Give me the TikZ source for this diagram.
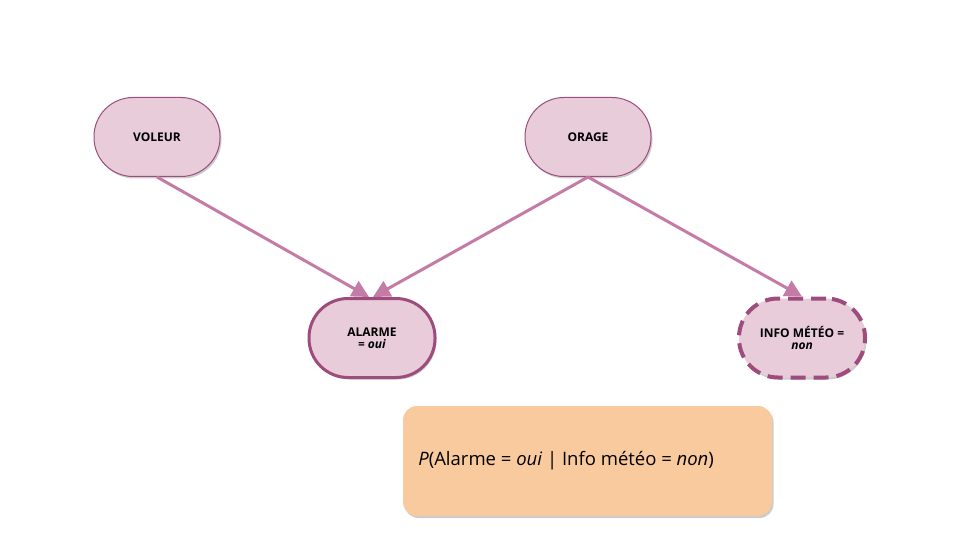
\documentclass[tikz,border=0pt]{standalone}
\usepackage{fontspec}
\setmainfont{Open Sans}
\usetikzlibrary{arrows.meta,shadows}
\definecolor{nodefill}{HTML}{E8CCDA}
\definecolor{nodeline}{HTML}{9E4C7E}
\definecolor{arrowcol}{HTML}{C47CA7}
\definecolor{boxfill}{HTML}{F8CA9E}
\tikzset{
  varnode/.style={draw=nodeline, fill=nodefill, minimum width=126pt, minimum height=79pt,
    rounded corners=39pt, align=center, font=\fontsize{12pt}{14pt}\selectfont\bfseries,
    drop shadow={shadow xshift=1.5pt, shadow yshift=-2pt, opacity=0.2, fill=black}},
  thinborder/.style={line width=1pt},
  thickborder/.style={line width=3pt},
  dashborder/.style={line width=4pt, dash pattern=on 15pt off 8pt},
  link/.style={draw=arrowcol, line width=3pt, -{Triangle[length=17pt, width=17pt]}},
  probbox/.style={draw=none, fill=boxfill, rounded corners=14pt, minimum width=369pt, minimum height=110pt,
    drop shadow={shadow xshift=1.5pt, shadow yshift=-2pt, opacity=0.2, fill=black}}
}
\begin{document}
\begin{tikzpicture}[x=1pt, y=-1pt]
\useasboundingbox (0,0) rectangle (960,540);
\node[varnode, thinborder] (voleur) at (157,137) {VOLEUR};
\node[varnode, thinborder] (orage) at (588,137) {ORAGE};
\node[varnode, thickborder] (alarme) at (372,338) {ALARME\\[-2pt]\textit{= oui}};
\node[varnode, dashborder] (info) at (802,338) {INFO MÉTÉO =\\[-2pt]\textit{non}};
\node[probbox] (prob) at (587.5,461) {};
\node[anchor=west, font=\fontsize{18.5pt}{21pt}\selectfont] (probtext) at ([xshift=12pt]prob.west) {\textit{P}(Alarme = \textit{oui} | Info météo = \textit{non})};
\draw[link] (voleur.south) -- ([xshift=-3pt]alarme.north);
\draw[link] (orage.south) -- ([xshift=1pt]alarme.north);
\draw[link] (orage.south) -- (info.north);
\end{tikzpicture}
\end{document}
